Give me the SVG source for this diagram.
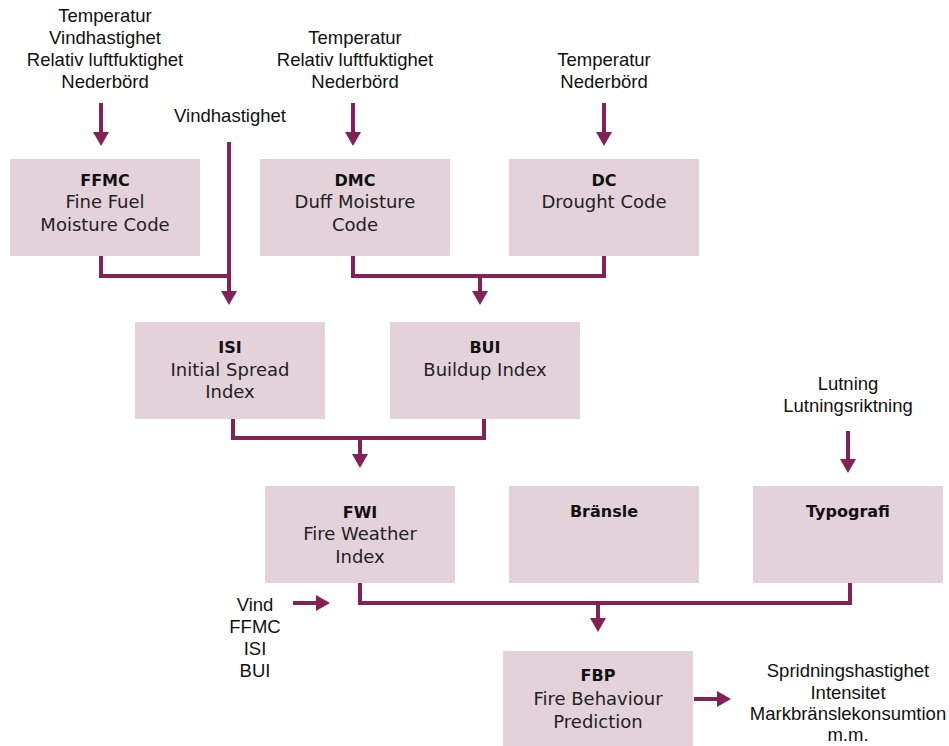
<svg xmlns="http://www.w3.org/2000/svg" width="949" height="746" viewBox="0 0 949 746">
<defs>
<style>
.box{fill:#e3d2da}
.t{font-family:"Liberation Sans",Arial,sans-serif;font-size:18.5px;fill:#111;text-anchor:middle}
.b{font-family:"DejaVu Sans","Noto Sans",sans-serif;font-size:18px;fill:#222;text-anchor:middle}
.bb{font-weight:bold;font-size:16px;fill:#111}
.c{fill:none;stroke:#842257;stroke-width:4}
.h{fill:#842257}
</style>
</defs>
<rect width="949" height="746" fill="#fff"/>

<g id="in-ffmc">
<text class="t" x="105" y="22">Temperatur</text>
<text class="t" x="105" y="44">Vindhastighet</text>
<text class="t" x="105" y="66">Relativ luftfuktighet</text>
<text class="t" x="105" y="88">Nederbörd</text>
</g>
<g id="in-vind"><text class="t" x="230" y="122">Vindhastighet</text></g>
<g id="in-dmc">
<text class="t" x="355" y="44">Temperatur</text>
<text class="t" x="355" y="66">Relativ luftfuktighet</text>
<text class="t" x="355" y="88">Nederbörd</text>
</g>
<g id="in-dc">
<text class="t" x="604" y="66">Temperatur</text>
<text class="t" x="604" y="88">Nederbörd</text>
</g>
<g id="in-lutning">
<text class="t" x="848" y="390">Lutning</text>
<text class="t" x="848" y="412">Lutningsriktning</text>
</g>
<g id="in-fbp">
<text class="t" x="255" y="611">Vind</text>
<text class="t" x="255" y="633">FFMC</text>
<text class="t" x="255" y="655">ISI</text>
<text class="t" x="255" y="677">BUI</text>
</g>
<g id="out-fbp">
<text class="t" x="848" y="677">Spridningshastighet</text>
<text class="t" x="848" y="699">Intensitet</text>
<text class="t" x="848" y="720">Markbränslekonsumtion</text>
<text class="t" x="848" y="741">m.m.</text>
</g>

<g id="ffmc">
<rect class="box" x="10" y="159" width="190" height="97"/>
<text class="b bb" x="105" y="186">FFMC</text>
<text class="b" x="105" y="208">Fine Fuel</text>
<text class="b" x="105" y="231">Moisture Code</text>
</g>
<g id="dmc">
<rect class="box" x="260" y="159" width="190" height="97"/>
<text class="b bb" x="355" y="186">DMC</text>
<text class="b" x="355" y="208">Duff Moisture</text>
<text class="b" x="355" y="231">Code</text>
</g>
<g id="dc">
<rect class="box" x="509" y="159" width="190" height="97"/>
<text class="b bb" x="604" y="186">DC</text>
<text class="b" x="604" y="208">Drought Code</text>
</g>
<g id="isi">
<rect class="box" x="135" y="322" width="190" height="97"/>
<text class="b bb" x="230" y="353">ISI</text>
<text class="b" x="230" y="376">Initial Spread</text>
<text class="b" x="230" y="398">Index</text>
</g>
<g id="bui">
<rect class="box" x="390" y="322" width="190" height="97"/>
<text class="b bb" x="485" y="353">BUI</text>
<text class="b" x="485" y="376">Buildup Index</text>
</g>
<g id="fwi">
<rect class="box" x="265" y="486" width="190" height="97"/>
<text class="b bb" x="360" y="518">FWI</text>
<text class="b" x="360" y="540">Fire Weather</text>
<text class="b" x="360" y="563">Index</text>
</g>
<g id="bransle">
<rect class="box" x="509" y="486" width="190" height="97"/>
<text class="b bb" x="604" y="517">Bränsle</text>
</g>
<g id="typografi">
<rect class="box" x="753" y="486" width="190" height="97"/>
<text class="b bb" x="848" y="517">Typografi</text>
</g>
<g id="fbp">
<rect class="box" x="503" y="651" width="190" height="97"/>
<text class="b bb" x="598" y="681">FBP</text>
<text class="b" x="598" y="705">Fire Behaviour</text>
<text class="b" x="598" y="728">Prediction</text>
</g>

<g id="connectors">
<path class="c" d="M101,103 V133"/><polygon class="h" points="93,132 109,132 101,146"/>
<path class="c" d="M353,103 V133"/><polygon class="h" points="345,132 361,132 353,146"/>
<path class="c" d="M604,103 V133"/><polygon class="h" points="596,132 612,132 604,146"/>
<path class="c" d="M848,431 V460"/><polygon class="h" points="840,459 856,459 848,473"/>
<path class="c" d="M101,256 V276 H229"/>
<path class="c" d="M229,142 V292"/><polygon class="h" points="221,291 237,291 229,305"/>
<path class="c" d="M353,256 V276 H604 V256"/>
<path class="c" d="M480,276 V292"/><polygon class="h" points="472,291 488,291 480,305"/>
<path class="c" d="M233,419 V438 H484 V419"/>
<path class="c" d="M360,438 V455"/><polygon class="h" points="352,454 368,454 360,468"/>
<path class="c" d="M360,583 V603 H850 V583"/>
<path class="c" d="M598,603 V619"/><polygon class="h" points="590,618 606,618 598,632"/>
<path class="c" d="M293,603 H317"/><polygon class="h" points="316,595 316,611 330,603"/>
<path class="c" d="M694,699 H718"/><polygon class="h" points="717,691 717,707 731,699"/>
</g>
</svg>
